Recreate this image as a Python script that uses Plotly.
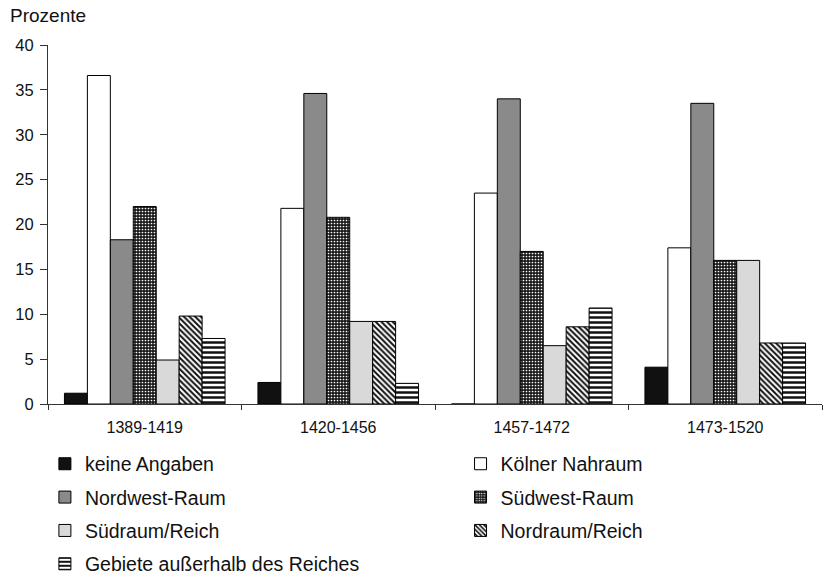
import plotly.graph_objects as go

categories = ["1389-1419", "1420-1456", "1457-1472", "1473-1520"]
series_names = ["keine Angaben", "Kölner Nahraum", "Nordwest-Raum", "Südwest-Raum",
                "Südraum/Reich", "Nordraum/Reich", "Gebiete außerhalb des Reiches"]
keine_angaben = [1.2, 2.4, 0.0, 4.1]
koelner_nahraum = [36.6, 21.8, 23.5, 17.4]
nordwest_raum = [18.3, 34.6, 34.0, 33.5]
suedwest_raum = [22.0, 20.8, 17.0, 16.0]
suedraum_reich = [4.9, 9.2, 6.5, 16.0]
nordraum_reich = [9.8, 9.2, 8.6, 6.8]
ausserhalb = [7.3, 2.3, 10.7, 6.8]
y_ticks = [0, 5, 10, 15, 20, 25, 30, 35, 40]

values = [keine_angaben, koelner_nahraum, nordwest_raum, suedwest_raum,
          suedraum_reich, nordraum_reich, ausserhalb]
# legend column for each series (left column / right column)
legend_ids = ["legend", "legend2", "legend", "legend2", "legend", "legend2", "legend"]

styles = [
    dict(color="#111111"),
    dict(color="#ffffff"),
    dict(color="#8a8a8a"),
    dict(color="#1a1a1a", pattern=dict(shape=".", fgcolor="#ffffff", bgcolor="#1a1a1a",
                                       size=3, solidity=0.25, fillmode="replace")),
    dict(color="#d9d9d9"),
    dict(color="#ffffff", pattern=dict(shape="\\", fgcolor="#111111", bgcolor="#ffffff",
                                       size=4, solidity=0.5, fillmode="replace")),
    dict(color="#ffffff", pattern=dict(shape="-", fgcolor="#111111", bgcolor="#ffffff",
                                       size=5, solidity=0.5, fillmode="replace")),
]

fig = go.Figure()
for i, (name, vals, st, lg) in enumerate(zip(series_names, values, styles, legend_ids)):
    marker = dict(color=st["color"], line=dict(color="#000000", width=1))
    if "pattern" in st:
        marker["pattern"] = st["pattern"]
    fig.add_trace(go.Bar(name=name, x=categories, y=vals, marker=marker,
                         legend=lg, legendgroup="g%d" % i))

font = "Liberation Sans, Arial, sans-serif"
legend_common = dict(orientation="v", yanchor="top", xanchor="left",
                     traceorder="grouped", tracegroupgap=5, itemwidth=30,
                     bgcolor="rgba(0,0,0,0)", borderwidth=0,
                     font=dict(family=font, size=19.5, color="#111111"))
fig.update_layout(
    width=824, height=576,
    barmode="group", bargap=0.17, bargroupgap=0,
    plot_bgcolor="white", paper_bgcolor="white",
    margin=dict(l=48, r=2, t=45, b=172, autoexpand=False),
    font=dict(family=font, size=16, color="#111111"),
    showlegend=True,
    legend=dict(x=-0.004, y=-0.113, **legend_common),
    legend2=dict(x=0.533, y=-0.113, **legend_common),
    annotations=[dict(text="Prozente", xref="paper", yref="paper", x=-0.0517, y=1.048,
                      xanchor="left", yanchor="bottom", showarrow=False,
                      font=dict(family=font, size=19, color="#111111"))],
)
fig.update_yaxes(range=[0, 40], tickvals=y_ticks, showgrid=False, zeroline=False,
                 showline=True, linecolor="#333333", linewidth=1,
                 ticks="outside", ticklen=7, tickcolor="#333333", ticklabelstandoff=3,
                 tickfont=dict(family=font, size=16.5))
fig.update_xaxes(showgrid=False, showline=True, linecolor="#333333", linewidth=1,
                 ticks="outside", ticklen=5, tickcolor="#333333", tickson="boundaries",
                 ticklabelstandoff=9, tickfont=dict(family=font, size=16))

fig.write_html("out.html", config={"displayModeBar": False},
               post_script="document.body.style.margin='0';")
